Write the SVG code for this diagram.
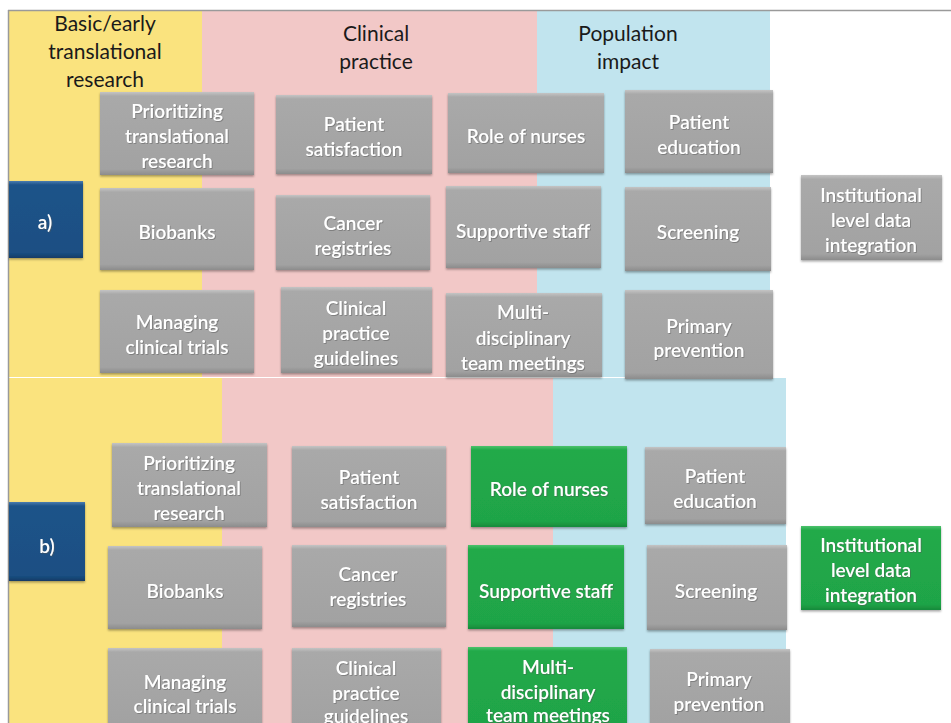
<svg xmlns="http://www.w3.org/2000/svg" width="951" height="723" viewBox="0 0 951 723">
<style>
.bg{stroke:none}
.gray{fill:url(#gGray)}
.green{fill:url(#gGreen)}
.blue{fill:url(#gBlue)}
.box{filter:url(#sh)}
.t{font-family:Lato,"Liberation Sans",sans-serif;font-size:19px;font-weight:600;fill:#ffffff;text-anchor:middle;dominant-baseline:central;filter:url(#tsh)}
.h{font-family:Lato,"Liberation Sans",sans-serif;font-size:21px;fill:#1a1a1a;text-anchor:middle;dominant-baseline:central}
</style>
<defs>
<linearGradient id="gGray" x1="0" y1="0" x2="0" y2="1">
<stop offset="0" stop-color="#c4c4c4"/><stop offset="0.05" stop-color="#a9a9a9"/><stop offset="0.93" stop-color="#a2a2a2"/><stop offset="1" stop-color="#8c8c8c"/>
</linearGradient>
<linearGradient id="gGreen" x1="0" y1="0" x2="0" y2="1">
<stop offset="0" stop-color="#4cc26c"/><stop offset="0.05" stop-color="#22aa4a"/><stop offset="0.93" stop-color="#1fa447"/><stop offset="1" stop-color="#178a3b"/>
</linearGradient>
<linearGradient id="gBlue" x1="0" y1="0" x2="0" y2="1">
<stop offset="0" stop-color="#4a7cae"/><stop offset="0.05" stop-color="#1d5389"/><stop offset="0.93" stop-color="#1a4f83"/><stop offset="1" stop-color="#123c66"/>
</linearGradient>
<filter id="sh" x="-10%" y="-10%" width="120%" height="130%"><feDropShadow dx="0" dy="1.5" stdDeviation="1.2" flood-color="#000" flood-opacity="0.35"/></filter>
<filter id="tsh" x="-10%" y="-20%" width="120%" height="150%"><feDropShadow dx="0.8" dy="0.8" stdDeviation="0.5" flood-color="#555" flood-opacity="0.6"/></filter>
</defs>
<rect width="951" height="723" fill="#ffffff"/>
<g id="background">
<rect class="bg" x="9" y="11" width="193" height="366" fill="#fae37e"/>
<rect class="bg" x="202" y="11" width="335" height="366" fill="#f2c8c7"/>
<rect class="bg" x="537" y="11" width="233" height="366" fill="#c1e4ee"/>
<rect class="bg" x="9" y="378" width="213" height="345" fill="#fae37e"/>
<rect class="bg" x="222" y="378" width="331" height="345" fill="#f2c8c7"/>
<rect class="bg" x="553" y="378" width="233" height="345" fill="#c1e4ee"/>
<line x1="8" y1="10.5" x2="951" y2="10.5" stroke="#9a9a9a" stroke-width="1.5"/>
<line x1="8.5" y1="10" x2="8.5" y2="723" stroke="#9a9a9a" stroke-width="1.5"/>
</g>
<g id="headers">
<text class="h" x="105" y="22">Basic/early</text>
<text class="h" x="105" y="50">translational</text>
<text class="h" x="105" y="78">research</text>
<text class="h" x="376" y="32">Clinical</text>
<text class="h" x="376" y="60">practice</text>
<text class="h" x="628" y="32">Population</text>
<text class="h" x="628" y="60">impact</text>
</g>
<g id="connectors"/>
<!-- panel a -->
<g id="a-label" class="box"><rect class="blue" x="9" y="181" width="74" height="77"/><text class="t" x="45" y="221">a)</text></g>
<g id="a-prioritizing" class="box"><rect class="gray" x="100" y="92" width="154" height="83"/><text class="t" x="177" y="110">Prioritizing</text><text class="t" x="177" y="135">translational</text><text class="t" x="177" y="160">research</text></g>
<g id="a-satisfaction" class="box"><rect class="gray" x="276" y="95" width="156" height="79"/><text class="t" x="354" y="123">Patient</text><text class="t" x="354" y="148">satisfaction</text></g>
<g id="a-nurses" class="box"><rect class="gray" x="448" y="93" width="156" height="80"/><text class="t" x="526" y="135">Role of nurses</text></g>
<g id="a-education" class="box"><rect class="gray" x="625" y="90" width="148" height="83"/><text class="t" x="699" y="121">Patient</text><text class="t" x="699" y="146">education</text></g>
<g id="a-biobanks" class="box"><rect class="gray" x="100" y="188" width="154" height="82"/><text class="t" x="177" y="231">Biobanks</text></g>
<g id="a-registries" class="box"><rect class="gray" x="276" y="195" width="154" height="75"/><text class="t" x="353" y="222">Cancer</text><text class="t" x="353" y="247">registries</text></g>
<g id="a-staff" class="box"><rect class="gray" x="446" y="186" width="155" height="82"/><text class="t" x="523" y="230">Supportive staff</text></g>
<g id="a-screening" class="box"><rect class="gray" x="625" y="187" width="146" height="84"/><text class="t" x="698" y="231">Screening</text></g>
<g id="a-institutional" class="box"><rect class="gray" x="801" y="175" width="141" height="85"/><text class="t" x="871" y="194">Institutional</text><text class="t" x="871" y="219">level data</text><text class="t" x="871" y="244">integration</text></g>
<g id="a-trials" class="box"><rect class="gray" x="100" y="290" width="154" height="83"/><text class="t" x="177" y="321">Managing</text><text class="t" x="177" y="346">clinical trials</text></g>
<g id="a-guidelines" class="box"><rect class="gray" x="281" y="287" width="151" height="86"/><text class="t" x="356" y="307">Clinical</text><text class="t" x="356" y="332">practice</text><text class="t" x="356" y="357">guidelines</text></g>
<g id="a-mdt" class="box"><rect class="gray" x="446" y="293" width="156" height="84"/><text class="t" x="523" y="311">Multi-</text><text class="t" x="523" y="337">disciplinary</text><text class="t" x="523" y="362">team meetings</text></g>
<g id="a-prevention" class="box"><rect class="gray" x="625" y="290" width="148" height="89"/><text class="t" x="699" y="325">Primary</text><text class="t" x="699" y="349">prevention</text></g>
<!-- panel b -->
<g id="b-label" class="box"><rect class="blue" x="9" y="502" width="76" height="79"/><text class="t" x="47" y="545">b)</text></g>
<g id="b-prioritizing" class="box"><rect class="gray" x="112" y="443" width="155" height="84"/><text class="t" x="189" y="462">Prioritizing</text><text class="t" x="189" y="487">translational</text><text class="t" x="189" y="512">research</text></g>
<g id="b-satisfaction" class="box"><rect class="gray" x="292" y="446" width="154" height="81"/><text class="t" x="369" y="476">Patient</text><text class="t" x="369" y="501">satisfaction</text></g>
<g id="b-nurses" class="box"><rect class="green" x="471" y="446" width="156" height="81"/><text class="t" x="549" y="488">Role of nurses</text></g>
<g id="b-education" class="box"><rect class="gray" x="645" y="447" width="141" height="77"/><text class="t" x="715" y="475">Patient</text><text class="t" x="715" y="500">education</text></g>
<g id="b-biobanks" class="box"><rect class="gray" x="108" y="546" width="154" height="83"/><text class="t" x="185" y="590">Biobanks</text></g>
<g id="b-registries" class="box"><rect class="gray" x="292" y="545" width="154" height="82"/><text class="t" x="368" y="573">Cancer</text><text class="t" x="368" y="598">registries</text></g>
<g id="b-staff" class="box"><rect class="green" x="468" y="545" width="156" height="84"/><text class="t" x="546" y="590">Supportive staff</text></g>
<g id="b-screening" class="box"><rect class="gray" x="647" y="545" width="140" height="85"/><text class="t" x="716" y="590">Screening</text></g>
<g id="b-institutional" class="box"><rect class="green" x="801" y="526" width="140" height="84"/><text class="t" x="871" y="544">Institutional</text><text class="t" x="871" y="569">level data</text><text class="t" x="871" y="594">integration</text></g>
<g id="b-trials" class="box"><rect class="gray" x="108" y="648" width="154" height="80"/><text class="t" x="185" y="681">Managing</text><text class="t" x="185" y="705">clinical trials</text></g>
<g id="b-guidelines" class="box"><rect class="gray" x="292" y="648" width="149" height="80"/><text class="t" x="366" y="667">Clinical</text><text class="t" x="366" y="692">practice</text><text class="t" x="366" y="715">guidelines</text></g>
<g id="b-mdt" class="box"><rect class="green" x="468" y="647" width="159" height="81"/><text class="t" x="548" y="666">Multi-</text><text class="t" x="548" y="691">disciplinary</text><text class="t" x="548" y="714">team meetings</text></g>
<g id="b-prevention" class="box"><rect class="gray" x="650" y="649" width="140" height="79"/><text class="t" x="719" y="678">Primary</text><text class="t" x="719" y="703">prevention</text></g>
</svg>
